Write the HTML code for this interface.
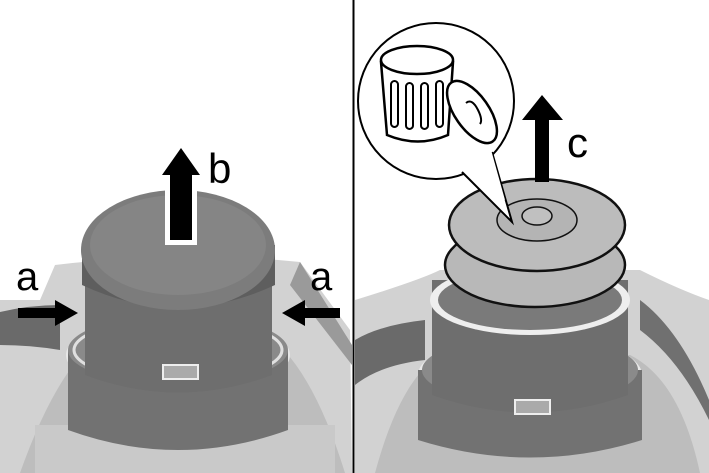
<!DOCTYPE html>
<html><head><style>
html,body{margin:0;padding:0;background:#fff;}
svg{display:block;}
text{font-family:"Liberation Sans",sans-serif;}
</style></head><body>
<svg width="709" height="473" viewBox="0 0 709 473" xmlns="http://www.w3.org/2000/svg">
<rect width="709" height="473" fill="#fff"/>
<!-- LEFT PANEL -->
<g>
 <path d="M0 300 L40 300 L55 265 Q180 250 300 262 L350 330 L352 473 L0 473 Z" fill="#d2d2d2"/>
 <path d="M0 312 Q30 305 60 305 L60 350 Q30 345 0 345 Z" fill="#6a6a6a"/>
 <path d="M300 262 L352 345 L352 365 L290 285 Z" fill="#9a9a9a"/>
 <path d="M20 473 Q60 360 110 330 L260 330 Q310 360 345 473 Z" fill="#bdbdbd"/>
 <rect x="35" y="425" width="300" height="48" fill="#c9c9c9"/>
 <ellipse cx="178" cy="355" rx="112" ry="40" fill="#e8e8e8"/>
 <path d="M68 350 L68 430 Q178 470 288 430 L288 350 Z" fill="#727272"/>
 <ellipse cx="178" cy="350" rx="110" ry="35" fill="#8a8a8a"/>
 <ellipse cx="178" cy="350" rx="104" ry="31" fill="none" stroke="#e0e0e0" stroke-width="3"/>
 <path d="M85 270 L85 375 Q178 410 272 375 L272 270 Z" fill="#6e6e6e"/>
 <rect x="163" y="365" width="35" height="14" fill="#aaa" stroke="#eee" stroke-width="2"/>
 <path d="M82 245 L82 285 Q178 330 275 285 L275 245 Z" fill="#5e5e5e"/>
 <ellipse cx="178" cy="250" rx="97" ry="60" fill="#7c7c7c"/>
 <ellipse cx="178" cy="245" rx="88" ry="50" fill="#858585"/>
 <path d="M165 245 L165 178 L155 178 L181 142 L207 178 L197 178 L197 245 Z" fill="#fff"/>
 <path d="M170 240 L170 175 L162 175 L181 148 L200 175 L192 175 L192 240 Z" fill="#000"/>
 <text x="208" y="183" font-size="42">b</text>
 <text x="16" y="290" font-size="40">a</text>
 <path d="M18 308 L55 308 L55 300 L78 313 L55 326 L55 318 L18 318 Z" fill="#000"/>
 <text x="310" y="290" font-size="40">a</text>
 <path d="M340 308 L305 308 L305 300 L282 313 L305 326 L305 318 L340 318 Z" fill="#000"/>
</g>
<line x1="353.5" y1="0" x2="353.5" y2="473" stroke="#000" stroke-width="2"/>
<!-- RIGHT PANEL -->
<g>
 <path d="M355 300 Q420 280 440 270 L640 270 Q680 290 709 300 L709 473 L355 473 Z" fill="#d2d2d2"/>
 <path d="M355 340 Q380 325 425 320 L425 360 Q380 365 355 385 Z" fill="#6a6a6a"/>
 <path d="M640 300 Q680 330 709 400 L709 420 Q680 360 640 330 Z" fill="#707070"/>
 <path d="M375 473 Q400 380 440 355 L630 355 Q680 380 700 473 Z" fill="#bdbdbd"/>
 <ellipse cx="530" cy="375" rx="112" ry="40" fill="#e8e8e8"/>
 <path d="M418 370 L418 440 Q530 475 642 440 L642 370 Z" fill="#727272"/>
 <ellipse cx="530" cy="370" rx="108" ry="34" fill="#8a8a8a"/>
 <path d="M432 280 L432 395 Q530 430 628 395 L628 280 Z" fill="#6e6e6e"/>
 <rect x="515" y="400" width="35" height="14" fill="#aaa" stroke="#eee" stroke-width="2"/>
 <ellipse cx="530" cy="300" rx="100" ry="35" fill="#eee"/>
 <ellipse cx="530" cy="300" rx="92" ry="30" fill="#7a7a7a"/>
 <ellipse cx="535" cy="265" rx="90" ry="42" fill="#b8b8b8" stroke="#111" stroke-width="2.5"/>
 <ellipse cx="537" cy="225" rx="88" ry="46" fill="#bcbcbc" stroke="#111" stroke-width="2.5"/>
 <ellipse cx="537" cy="220" rx="40" ry="21" fill="#b4b4b4" stroke="#111" stroke-width="1.5"/>
 <ellipse cx="537" cy="216" rx="15" ry="9" fill="#c0c0c0" stroke="#111" stroke-width="1.5"/>
 <path d="M535 182 L535 120 L522 120 L542 95 L563 120 L549 120 L549 182 Z" fill="#000"/>
 <text x="567" y="157" font-size="42">c</text>
 <!-- callout -->
 <circle cx="436" cy="101" r="78" fill="#fff" stroke="#000" stroke-width="2"/>
 <path d="M462 172 L512 222 L492 152" fill="#fff" stroke="#000" stroke-width="2"/>
 <path d="M458 168 L490 146 L505 200 Z" fill="#fff"/>
 <!-- trash can -->
 <path d="M381 62 L387 135 Q418 148 448 135 L453 62 Z" fill="#fff" stroke="#000" stroke-width="2.5"/>
 <ellipse cx="417" cy="60" rx="36" ry="14" fill="#fff" stroke="#000" stroke-width="2.5"/>
 <rect x="391" y="81" width="7" height="46" rx="3.5" fill="none" stroke="#000" stroke-width="2"/>
 <rect x="406" y="83" width="7" height="46" rx="3.5" fill="none" stroke="#000" stroke-width="2"/>
 <rect x="421" y="83" width="7" height="46" rx="3.5" fill="none" stroke="#000" stroke-width="2"/>
 <rect x="436" y="81" width="7" height="46" rx="3.5" fill="none" stroke="#000" stroke-width="2"/>
 <ellipse cx="472" cy="112" rx="17" ry="36" transform="rotate(-35 472 112)" fill="#fff" stroke="#000" stroke-width="2.5"/>
 <path d="M466 103 Q472 98 478 110 Q483 120 480 124" fill="none" stroke="#000" stroke-width="2"/>
</g>
</svg>
</body></html>
